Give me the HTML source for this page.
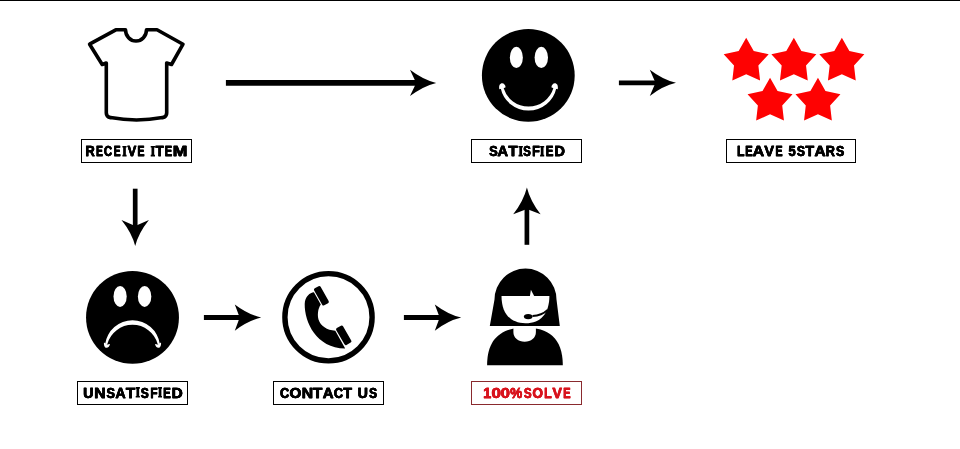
<!DOCTYPE html>
<html><head><meta charset="utf-8">
<style>
html,body{margin:0;padding:0;background:#fff;width:960px;height:449px;overflow:hidden;}
svg{display:block;will-change:transform;}
text{font-family:"Liberation Sans", sans-serif;font-weight:bold;}
</style></head><body>
<svg width="960" height="449" viewBox="0 0 960 449">
<rect x="0" y="0" width="960" height="1" fill="#000"/>

<!-- T-shirt -->
<path d="M115.8,29.8 L125.5,29.8 A10.5,11.2 0 0 0 146.5,29.8 L157,29.8 L183,44.2 L171.5,64.5 L166.7,63 L166.7,113 Q166.7,117 162.5,117.6 Q136.5,122.5 110.5,117.6 Q106.3,117 106.3,113 L106.3,63 L102.2,64.5 L89.6,44.2 Z" fill="none" stroke="#000" stroke-width="3.6" stroke-linejoin="round"/>


<!-- smiley -->
<circle cx="528.3" cy="75.4" r="46.4" fill="#000"/>
<ellipse cx="516.35" cy="57.4" rx="6.5" ry="10.6" fill="#fff"/>
<ellipse cx="541.3" cy="57.4" rx="6.7" ry="10.6" fill="#fff"/>
<path d="M500.62,88 A28.5,28.5 0 0 0 556.38,88 L553.42,88 A26,26 0 0 1 503.58,88 Z" fill="#fff"/>
<path d="M499.3,89.2 C498.6,85.5 500,83.3 502.2,83.3 C504,83.3 505.3,85 505.6,87.2 L503.6,88.3 Z" fill="#fff"/>
<path d="M557.7,89.2 C558.4,85.5 557,83.3 554.8,83.3 C553,83.3 551.7,85 551.4,87.2 L553.4,88.3 Z" fill="#fff"/>


<!-- stars -->
<g fill="#fe0202"><polygon points="746.20,37.80 753.72,51.09 768.69,54.14 758.37,65.41 760.10,80.58 746.20,74.25 732.30,80.58 734.03,65.41 723.71,54.14 738.68,51.09"/><polygon points="793.85,37.80 801.37,51.09 816.34,54.14 806.02,65.41 807.75,80.58 793.85,74.25 779.95,80.58 781.68,65.41 771.36,54.14 786.33,51.09"/><polygon points="841.85,37.80 849.37,51.09 864.34,54.14 854.02,65.41 855.75,80.58 841.85,74.25 827.95,80.58 829.68,65.41 819.36,54.14 834.33,51.09"/><polygon points="770.05,77.80 777.57,91.09 792.54,94.14 782.22,105.41 783.95,120.58 770.05,114.25 756.15,120.58 757.88,105.41 747.56,94.14 762.53,91.09"/><polygon points="817.95,77.80 825.47,91.09 840.44,94.14 830.12,105.41 831.85,120.58 817.95,114.25 804.05,120.58 805.78,105.41 795.46,94.14 810.43,91.09"/></g>

<!--ARROWS-->
<line x1="225.90" y1="82.90" x2="421.20" y2="82.90" stroke="#000" stroke-width="5.80"/>
<path d="M436.20,82.90 Q423.10,86.07 410.00,96.10 L416.20,82.90 L410.00,69.70 Q423.10,79.73 436.20,82.90 Z" fill="#000"/>
<line x1="618.90" y1="82.80" x2="660.50" y2="82.80" stroke="#000" stroke-width="4.70"/>
<path d="M676.00,82.80 Q662.90,85.94 649.80,95.90 L655.50,82.80 L649.80,69.70 Q662.90,79.66 676.00,82.80 Z" fill="#000"/>
<line x1="203.90" y1="317.60" x2="244.70" y2="317.60" stroke="#000" stroke-width="5.00"/>
<path d="M261.20,317.60 Q248.00,320.76 234.80,330.75 L239.70,317.60 L234.80,304.45 Q248.00,314.44 261.20,317.60 Z" fill="#000"/>
<line x1="403.90" y1="317.60" x2="444.70" y2="317.60" stroke="#000" stroke-width="5.00"/>
<path d="M461.20,317.60 Q448.00,320.76 434.80,330.75 L439.70,317.60 L434.80,304.45 Q448.00,314.44 461.20,317.60 Z" fill="#000"/>
<line x1="135.20" y1="188.70" x2="135.20" y2="231.10" stroke="#000" stroke-width="4.70"/>
<path d="M135.20,246.10 Q131.91,233.10 121.50,220.10 L135.20,226.10 L148.90,220.10 Q138.49,233.10 135.20,246.10 Z" fill="#000"/>
<line x1="526.90" y1="244.80" x2="526.90" y2="204.00" stroke="#000" stroke-width="4.70"/>
<path d="M526.90,187.50 Q530.19,200.90 540.60,214.30 L526.90,209.00 L513.20,214.30 Q523.61,200.90 526.90,187.50 Z" fill="#000"/>
<!--/ARROWS-->
<!--LABELS-->
<rect x="81.50" y="139.50" width="110.00" height="23.00" fill="none" stroke="#000" stroke-width="1"/>
<g fill="#000" stroke="#000" stroke-width="0.35" font-size="15"><text transform="translate(85.26,156.30) scale(0.861,1)">R</text><text transform="translate(85.44,156.30) scale(0.861,1)">R</text><text transform="translate(85.61,156.30) scale(0.861,1)">R</text><text transform="translate(95.95,156.30) scale(0.677,1)">E</text><text transform="translate(96.12,156.30) scale(0.677,1)">E</text><text transform="translate(96.30,156.30) scale(0.677,1)">E</text><text transform="translate(103.76,156.30) scale(0.755,1)">C</text><text transform="translate(103.94,156.30) scale(0.755,1)">C</text><text transform="translate(104.11,156.30) scale(0.755,1)">C</text><text transform="translate(113.55,156.30) scale(0.677,1)">E</text><text transform="translate(113.72,156.30) scale(0.677,1)">E</text><text transform="translate(113.90,156.30) scale(0.677,1)">E</text><path stroke="none" d="M122.40,145.88 h4.20 v1.70 h-0.75 v7.12 h0.75 v1.70 h-4.20 v-1.70 h0.75 v-7.12 h-0.75 Z"/><text transform="translate(127.44,156.30) scale(0.867,1)">V</text><text transform="translate(127.61,156.30) scale(0.867,1)">V</text><text transform="translate(127.79,156.30) scale(0.867,1)">V</text><text transform="translate(137.33,156.30) scale(0.689,1)">E</text><text transform="translate(137.51,156.30) scale(0.689,1)">E</text><text transform="translate(137.68,156.30) scale(0.689,1)">E</text><path stroke="none" d="M150.70,145.88 h4.30 v1.70 h-0.80 v7.12 h0.80 v1.70 h-4.30 v-1.70 h0.80 v-7.12 h-0.80 Z"/><text transform="translate(155.38,156.30) scale(0.883,1)">T</text><text transform="translate(155.55,156.30) scale(0.883,1)">T</text><text transform="translate(155.73,156.30) scale(0.883,1)">T</text><text transform="translate(164.59,156.30) scale(0.737,1)">E</text><text transform="translate(164.76,156.30) scale(0.737,1)">E</text><text transform="translate(164.94,156.30) scale(0.737,1)">E</text><text transform="translate(172.55,156.30) scale(1.173,1)">M</text><text transform="translate(172.72,156.30) scale(1.173,1)">M</text><text transform="translate(172.90,156.30) scale(1.173,1)">M</text></g>
<rect x="471.50" y="139.50" width="110.00" height="23.00" fill="none" stroke="#000" stroke-width="1"/>
<g fill="#000" stroke="#000" stroke-width="0.35" font-size="15"><text transform="translate(488.95,156.30) scale(0.857,1)">S</text><text transform="translate(489.13,156.30) scale(0.857,1)">S</text><text transform="translate(489.30,156.30) scale(0.857,1)">S</text><text transform="translate(497.26,156.30) scale(0.984,1)">A</text><text transform="translate(497.43,156.30) scale(0.984,1)">A</text><text transform="translate(497.61,156.30) scale(0.984,1)">A</text><text transform="translate(508.15,156.30) scale(1.019,1)">T</text><text transform="translate(508.33,156.30) scale(1.019,1)">T</text><text transform="translate(508.50,156.30) scale(1.019,1)">T</text><path stroke="none" d="M518.50,145.88 h4.40 v1.70 h-0.85 v7.12 h0.85 v1.70 h-4.40 v-1.70 h0.85 v-7.12 h-0.85 Z"/><text transform="translate(522.99,156.30) scale(0.768,1)">S</text><text transform="translate(523.17,156.30) scale(0.768,1)">S</text><text transform="translate(523.34,156.30) scale(0.768,1)">S</text><text transform="translate(531.99,156.30) scale(0.828,1)">F</text><text transform="translate(532.17,156.30) scale(0.828,1)">F</text><text transform="translate(532.34,156.30) scale(0.828,1)">F</text><path stroke="none" d="M540.10,145.88 h4.10 v1.70 h-0.70 v7.12 h0.70 v1.70 h-4.10 v-1.70 h0.70 v-7.12 h-0.70 Z"/><text transform="translate(545.56,156.30) scale(0.760,1)">E</text><text transform="translate(545.74,156.30) scale(0.760,1)">E</text><text transform="translate(545.91,156.30) scale(0.760,1)">E</text><text transform="translate(554.14,156.30) scale(0.978,1)">D</text><text transform="translate(554.32,156.30) scale(0.978,1)">D</text><text transform="translate(554.49,156.30) scale(0.978,1)">D</text></g>
<rect x="726.50" y="139.50" width="129.00" height="23.00" fill="none" stroke="#000" stroke-width="1"/>
<g fill="#000" stroke="#000" stroke-width="0.35" font-size="15"><text transform="translate(736.92,156.30) scale(0.805,1)">L</text><text transform="translate(737.09,156.30) scale(0.805,1)">L</text><text transform="translate(737.27,156.30) scale(0.805,1)">L</text><text transform="translate(745.09,156.30) scale(0.737,1)">E</text><text transform="translate(745.26,156.30) scale(0.737,1)">E</text><text transform="translate(745.44,156.30) scale(0.737,1)">E</text><text transform="translate(752.42,156.30) scale(1.073,1)">A</text><text transform="translate(752.60,156.30) scale(1.073,1)">A</text><text transform="translate(752.77,156.30) scale(1.073,1)">A</text><text transform="translate(764.13,156.30) scale(0.969,1)">V</text><text transform="translate(764.30,156.30) scale(0.969,1)">V</text><text transform="translate(764.48,156.30) scale(0.969,1)">V</text><text transform="translate(775.32,156.30) scale(0.701,1)">E</text><text transform="translate(775.50,156.30) scale(0.701,1)">E</text><text transform="translate(775.67,156.30) scale(0.701,1)">E</text><text transform="translate(788.33,156.30) scale(0.858,1)">5</text><text transform="translate(788.50,156.30) scale(0.858,1)">5</text><text transform="translate(788.68,156.30) scale(0.858,1)">5</text><text transform="translate(796.67,156.30) scale(0.812,1)">S</text><text transform="translate(796.85,156.30) scale(0.812,1)">S</text><text transform="translate(797.02,156.30) scale(0.812,1)">S</text><text transform="translate(805.26,156.30) scale(0.951,1)">T</text><text transform="translate(805.44,156.30) scale(0.951,1)">T</text><text transform="translate(805.61,156.30) scale(0.951,1)">T</text><text transform="translate(814.34,156.30) scale(1.024,1)">A</text><text transform="translate(814.52,156.30) scale(1.024,1)">A</text><text transform="translate(814.69,156.30) scale(1.024,1)">A</text><text transform="translate(825.47,156.30) scale(0.851,1)">R</text><text transform="translate(825.65,156.30) scale(0.851,1)">R</text><text transform="translate(825.82,156.30) scale(0.851,1)">R</text><text transform="translate(835.87,156.30) scale(0.823,1)">S</text><text transform="translate(836.04,156.30) scale(0.823,1)">S</text><text transform="translate(836.22,156.30) scale(0.823,1)">S</text></g>
<rect x="77.50" y="381.50" width="110.00" height="23.00" fill="none" stroke="#000" stroke-width="1"/>
<g fill="#000" stroke="#000" stroke-width="0.35" font-size="15"><text transform="translate(83.08,397.50) scale(0.943,1)">U</text><text transform="translate(83.25,397.50) scale(0.943,1)">U</text><text transform="translate(83.43,397.50) scale(0.943,1)">U</text><text transform="translate(93.96,397.50) scale(1.066,1)">N</text><text transform="translate(94.13,397.50) scale(1.066,1)">N</text><text transform="translate(94.31,397.50) scale(1.066,1)">N</text><text transform="translate(106.25,397.50) scale(0.857,1)">S</text><text transform="translate(106.43,397.50) scale(0.857,1)">S</text><text transform="translate(106.60,397.50) scale(0.857,1)">S</text><text transform="translate(115.27,397.50) scale(0.944,1)">A</text><text transform="translate(115.45,397.50) scale(0.944,1)">A</text><text transform="translate(115.62,397.50) scale(0.944,1)">A</text><text transform="translate(125.65,397.50) scale(1.019,1)">T</text><text transform="translate(125.83,397.50) scale(1.019,1)">T</text><text transform="translate(126.00,397.50) scale(1.019,1)">T</text><path stroke="none" d="M135.70,387.08 h4.20 v1.70 h-0.75 v7.12 h0.75 v1.70 h-4.20 v-1.70 h0.75 v-7.12 h-0.75 Z"/><text transform="translate(140.58,397.50) scale(0.801,1)">S</text><text transform="translate(140.75,397.50) scale(0.801,1)">S</text><text transform="translate(140.93,397.50) scale(0.801,1)">S</text><text transform="translate(150.13,397.50) scale(0.788,1)">F</text><text transform="translate(150.31,397.50) scale(0.788,1)">F</text><text transform="translate(150.48,397.50) scale(0.788,1)">F</text><path stroke="none" d="M158.10,387.08 h3.90 v1.70 h-0.60 v7.12 h0.60 v1.70 h-3.90 v-1.70 h0.60 v-7.12 h-0.60 Z"/><text transform="translate(162.96,397.50) scale(0.760,1)">E</text><text transform="translate(163.14,397.50) scale(0.760,1)">E</text><text transform="translate(163.31,397.50) scale(0.760,1)">E</text><text transform="translate(171.50,397.50) scale(1.022,1)">D</text><text transform="translate(171.67,397.50) scale(1.022,1)">D</text><text transform="translate(171.85,397.50) scale(1.022,1)">D</text></g>
<rect x="273.50" y="381.50" width="110.00" height="23.00" fill="none" stroke="#000" stroke-width="1"/>
<g fill="#000" stroke="#000" stroke-width="0.35" font-size="15"><text transform="translate(279.80,397.50) scale(0.846,1)">C</text><text transform="translate(279.98,397.50) scale(0.846,1)">C</text><text transform="translate(280.15,397.50) scale(0.846,1)">C</text><text transform="translate(289.31,397.50) scale(1.007,1)">O</text><text transform="translate(289.48,397.50) scale(1.007,1)">O</text><text transform="translate(289.66,397.50) scale(1.007,1)">O</text><text transform="translate(301.58,397.50) scale(1.043,1)">N</text><text transform="translate(301.75,397.50) scale(1.043,1)">N</text><text transform="translate(301.93,397.50) scale(1.043,1)">N</text><text transform="translate(312.55,397.50) scale(1.042,1)">T</text><text transform="translate(312.72,397.50) scale(1.042,1)">T</text><text transform="translate(312.90,397.50) scale(1.042,1)">T</text><text transform="translate(322.55,397.50) scale(0.994,1)">A</text><text transform="translate(322.73,397.50) scale(0.994,1)">A</text><text transform="translate(322.90,397.50) scale(0.994,1)">A</text><text transform="translate(333.70,397.50) scale(0.857,1)">C</text><text transform="translate(333.87,397.50) scale(0.857,1)">C</text><text transform="translate(334.05,397.50) scale(0.857,1)">C</text><text transform="translate(343.06,397.50) scale(0.951,1)">T</text><text transform="translate(343.24,397.50) scale(0.951,1)">T</text><text transform="translate(343.41,397.50) scale(0.951,1)">T</text><text transform="translate(357.48,397.50) scale(0.943,1)">U</text><text transform="translate(357.65,397.50) scale(0.943,1)">U</text><text transform="translate(357.83,397.50) scale(0.943,1)">U</text><text transform="translate(368.88,397.50) scale(0.801,1)">S</text><text transform="translate(369.05,397.50) scale(0.801,1)">S</text><text transform="translate(369.23,397.50) scale(0.801,1)">S</text></g>
<rect x="471.50" y="381.50" width="110.00" height="23.00" fill="none" stroke="#8a2a2e" stroke-width="1"/>
<g fill="#d8141e" stroke="#d8141e" stroke-width="0.35" font-size="15"><text transform="translate(483.00,397.50) scale(0.974,1)">1</text><text transform="translate(483.18,397.50) scale(0.974,1)">1</text><text transform="translate(483.35,397.50) scale(0.974,1)">1</text><text transform="translate(491.35,397.50) scale(1.135,1)">0</text><text transform="translate(491.53,397.50) scale(1.135,1)">0</text><text transform="translate(491.70,397.50) scale(1.135,1)">0</text><text transform="translate(500.47,397.50) scale(1.107,1)">0</text><text transform="translate(500.64,397.50) scale(1.107,1)">0</text><text transform="translate(500.82,397.50) scale(1.107,1)">0</text><text transform="translate(509.99,397.50) scale(0.907,1)">%</text><text transform="translate(510.16,397.50) scale(0.907,1)">%</text><text transform="translate(510.34,397.50) scale(0.907,1)">%</text><text transform="translate(523.69,397.50) scale(0.779,1)">S</text><text transform="translate(523.86,397.50) scale(0.779,1)">S</text><text transform="translate(524.04,397.50) scale(0.779,1)">S</text><text transform="translate(532.27,397.50) scale(0.902,1)">O</text><text transform="translate(532.45,397.50) scale(0.902,1)">O</text><text transform="translate(532.62,397.50) scale(0.902,1)">O</text><text transform="translate(544.00,397.50) scale(0.818,1)">L</text><text transform="translate(544.18,397.50) scale(0.818,1)">L</text><text transform="translate(544.35,397.50) scale(0.818,1)">L</text><text transform="translate(552.33,397.50) scale(0.939,1)">V</text><text transform="translate(552.50,397.50) scale(0.939,1)">V</text><text transform="translate(552.68,397.50) scale(0.939,1)">V</text><text transform="translate(563.10,397.50) scale(0.725,1)">E</text><text transform="translate(563.27,397.50) scale(0.725,1)">E</text><text transform="translate(563.45,397.50) scale(0.725,1)">E</text></g>
<!--/LABELS-->



<!-- sad face -->
<circle cx="132.5" cy="317.4" r="46.45" fill="#000"/>
<ellipse cx="120.1" cy="296.4" rx="6.6" ry="10.5" fill="#fff"/>
<ellipse cx="144.6" cy="296.4" rx="6.7" ry="10.5" fill="#fff"/>
<path d="M105.15,344 A27.62,27.62 0 0 1 159.85,344 L157.69,344 A26.13,26.13 0 0 0 107.31,344 Z" fill="#fff"/>
<path d="M104,342.5 C103.6,345.5 104.8,347.8 106.6,347.8 C108.3,347.8 109.6,346 110,344 L107.3,344.5 Z" fill="#fff"/>
<path d="M161,342.5 C161.4,345.5 160.2,347.8 158.4,347.8 C156.7,347.8 155.4,346 155,344 L157.7,344.5 Z" fill="#fff"/>


<!-- phone -->
<circle cx="328.5" cy="317.25" r="43.6" fill="none" stroke="#000" stroke-width="5.4"/>
<path d="M313.9,292.3 C310,292.6 305,296.5 304.7,304 C304.5,322 316,348 345.2,348.6 L335.3,330.7 C327,330.2 320.5,326 318.5,319.5 C317.4,315.5 317.6,309 320.8,304.56 Z" fill="#000"/>
<rect x="-9.7" y="-3.7" width="19.4" height="7.4" rx="1.5" transform="translate(321.4,295.75) rotate(60.7)" fill="#000"/>
<rect x="-9.7" y="-3.9" width="19.4" height="7.8" rx="1.5" transform="translate(343.75,335.3) rotate(60)" fill="#000"/>

<!-- woman -->
<path d="M489.8,326.1 L494.5,299.6 A31,31 0 0 1 556.5,299.6 L559.8,326.1 Z" fill="#000"/>
<path d="M501.5,295.9 L549.4,295.9 C549.4,313 541,323.2 525.45,323.2 C510,323.2 501.5,313 501.5,295.9 Z" fill="#fff"/>
<path d="M530.9,289.8 L529.9,296.3 L534.3,296.3 Z" fill="#fff"/>
<path d="M547.6,310 Q541.8,315.6 532.5,316" fill="none" stroke="#000" stroke-width="1.8"/>
<ellipse cx="528.2" cy="316.55" rx="4.3" ry="2.65" fill="#000"/>
<path d="M487.1,365.2 C487.1,338 502,327.6 525,327.6 C548,327.6 562.8,338 562.8,365.2 Z" fill="#000"/>
<path d="M513.4,327 L535.9,327 L535.9,332 C535.9,338 531,341.7 524.65,341.7 C518.3,341.7 513.4,338 513.4,332 Z" fill="#fff"/>

</svg>
</body></html>
